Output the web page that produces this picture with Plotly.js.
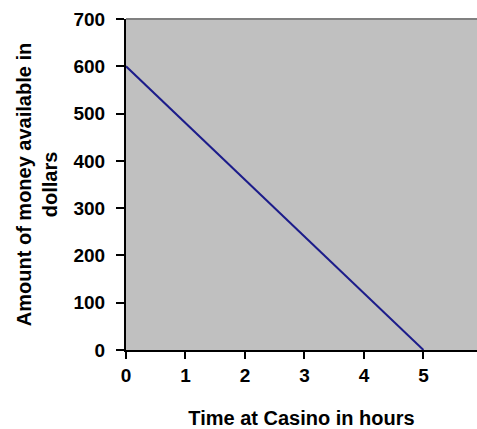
<!DOCTYPE html>
<html>
<head>
<meta charset="utf-8">
<script src="https://cdn.plot.ly/plotly-3.0.1.min.js"></script>
<style>html,body{margin:0;padding:0;background:#fff;}#chart{width:477px;height:429px;}</style>
</head>
<body>
<div id="chart"></div>
<script>
var hours = [0, 5];
var money = [600, 0];
var xTicks = [0, 1, 2, 3, 4, 5];
var yTicks = [0, 100, 200, 300, 400, 500, 600, 700];
var xTitle = "Time at Casino in hours";
var yTitle = "Amount of money available in<br>dollars";

var font = {family: "Liberation Sans, Arial, sans-serif", color: "#000"};

Plotly.newPlot("chart", [{
  x: hours, y: money, type: "scatter", mode: "lines",
  line: {color: "#1c1c8a", width: 2}, hoverinfo: "skip"
}], {
  width: 477, height: 429,
  margin: {l: 126, r: 0, t: 19, b: 79},
  paper_bgcolor: "#ffffff",
  plot_bgcolor: "#c0c0c0",
  showlegend: false,
  xaxis: {
    range: [0, 5.9], tickvals: xTicks, ticktext: xTicks.map(String),
    showgrid: false, zeroline: false, showline: true, linecolor: "#000", linewidth: 2,
    ticks: "outside", ticklen: 7, tickwidth: 2, tickcolor: "#000",
    tickfont: Object.assign({size: 19, weight: "bold"}, font),
    title: {text: "<b>" + xTitle + "</b>", font: Object.assign({size: 20}, font), standoff: 35}
  },
  yaxis: {
    range: [0, 700], tickvals: yTicks, ticktext: yTicks.map(String),
    showgrid: false, zeroline: false, showline: true, linecolor: "#000", linewidth: 2,
    ticks: "outside", ticklen: 8, tickwidth: 2, tickcolor: "#000", ticklabelstandoff: 7,
    tickfont: Object.assign({size: 19, weight: "bold"}, font),
    title: {text: "<b>" + yTitle + "</b>", font: Object.assign({size: 20}, font), standoff: 10}
  },
  shapes: [{type: "line", xref: "paper", yref: "paper", x0: 0, x1: 1, y0: 1, y1: 1,
            line: {color: "#808080", width: 2}}]
}, {displayModeBar: false, staticPlot: true});
</script>
</body>
</html>
